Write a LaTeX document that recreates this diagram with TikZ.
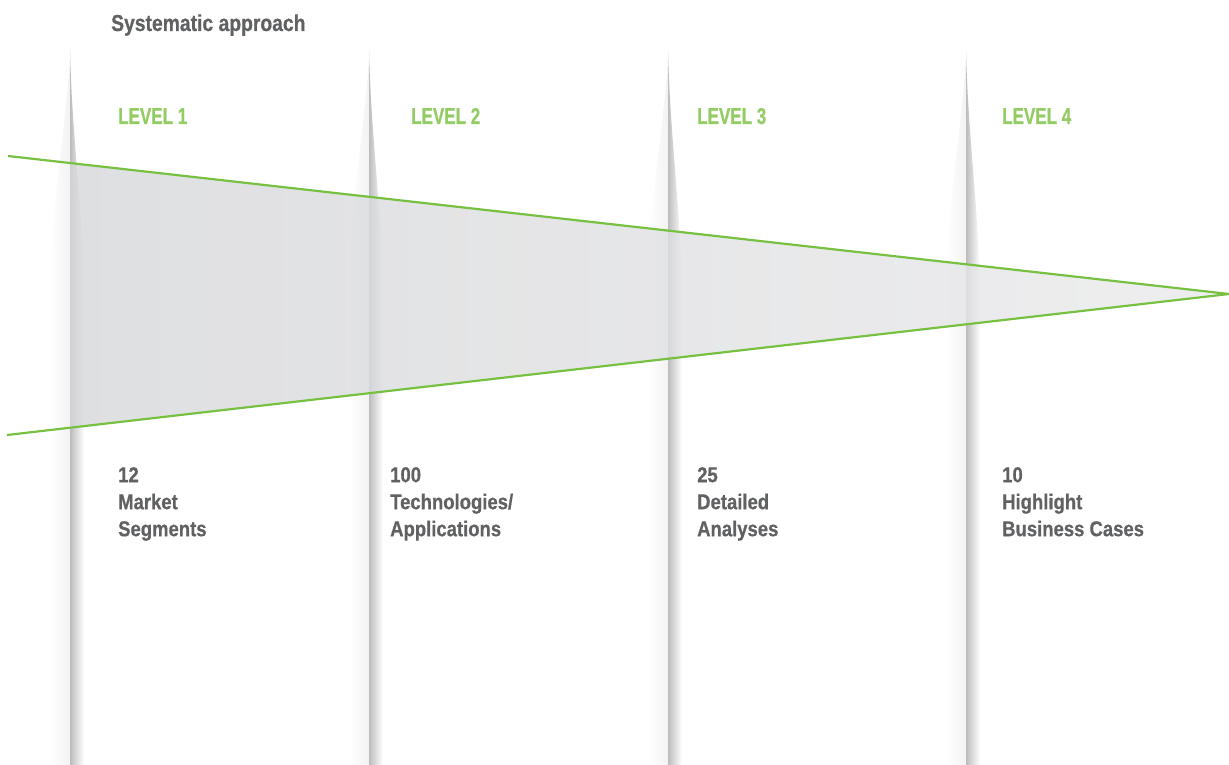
\documentclass[tikz,border=0pt]{standalone}
\usepackage{fontspec}
\setmainfont{Liberation Sans}
\newfontfamily\titlefont{Liberation Sans}[FakeStretch=0.84, BoldFeatures={FakeBold=0.6}]
\newfontfamily\levelfont{Liberation Sans}[FakeStretch=0.74, BoldFeatures={FakeBold=0.6}]
\newfontfamily\countfont{Liberation Sans}[FakeStretch=0.86, BoldFeatures={FakeBold=0.6}]
\usetikzlibrary{positioning, calc}

\definecolor{lvlgreen}{RGB}{146,204,98}
\definecolor{linegreen}{RGB}{120,192,66}
\definecolor{txtgray}{RGB}{96,97,99}
\definecolor{funnelL}{RGB}{214,215,217}
\definecolor{funnelR}{RGB}{234,234,236}

\tikzset{
  fold/.style={left color=black!26, right color=white},
  foldshadow/.style={left color=white, right color=black!5},
  funnel/.style={draw=linegreen, line width=2.2pt, line join=miter},
  title/.style={anchor=base west, inner sep=0, text=txtgray, font=\titlefont\bfseries\fontsize{23}{26}\selectfont},
  level/.style={anchor=base west, inner sep=0, text=lvlgreen, font=\levelfont\bfseries\fontsize{23}{26}\selectfont},
  count/.style={anchor=north west, inner sep=0, align=left, text=txtgray, font=\countfont\bfseries\fontsize{21.5}{27}\selectfont}
}

\begin{document}
\begin{tikzpicture}[x=1pt, y=-1pt]
   \useasboundingbox (0,0) rectangle (1229,765);

   % Folds
      \foreach \fx in {70,369,668,966} {
         \shade[foldshadow] (\fx-20,765) -- (\fx-20,300) .. controls (\fx-20,200) and (\fx-1,110) .. (\fx,50) -- (\fx,765) -- cycle;
         \shade[fold] (\fx,50) .. controls (\fx+2,140) and (\fx+14,220) .. (\fx+14,300) -- (\fx+14,765) -- (\fx,765) -- cycle;
      }

   % Funnel
      \coordinate (tl)   at (8,156);
      \coordinate (bl)   at (7,435);
      \coordinate (apex) at (1229,294);
      \coordinate (ftop) at ($(tl)!0.0508!(apex)$);
      \coordinate (fbot) at ($(bl)!0.0516!(apex)$);
      \shade[fill opacity=0.8, left color=funnelL, right color=funnelR] (ftop) -- (apex) -- (fbot) -- cycle;
      \draw[funnel] (tl) -- (apex) -- (bl);

   % Texts
      \node[title] (head) at (111,31)  {Systematic approach};
      \node[level] (lvl1) at (118,124) {LEVEL 1};
      \node[level] (lvl2) at (411,124) {LEVEL 2};
      \node[level] (lvl3) at (697,124) {LEVEL 3};
      \node[level] (lvl4) at (1002,124) {LEVEL 4};
      \node[count] (cnt1) at (118,467)  {12\\Market\\Segments};
      \node[count] (cnt2) at (390,467)  {100\\Technologies/\\Applications};
      \node[count] (cnt3) at (697,467)  {25\\Detailed\\Analyses};
      \node[count] (cnt4) at (1002,467) {10\\Highlight\\Business Cases};
\end{tikzpicture}
\end{document}
